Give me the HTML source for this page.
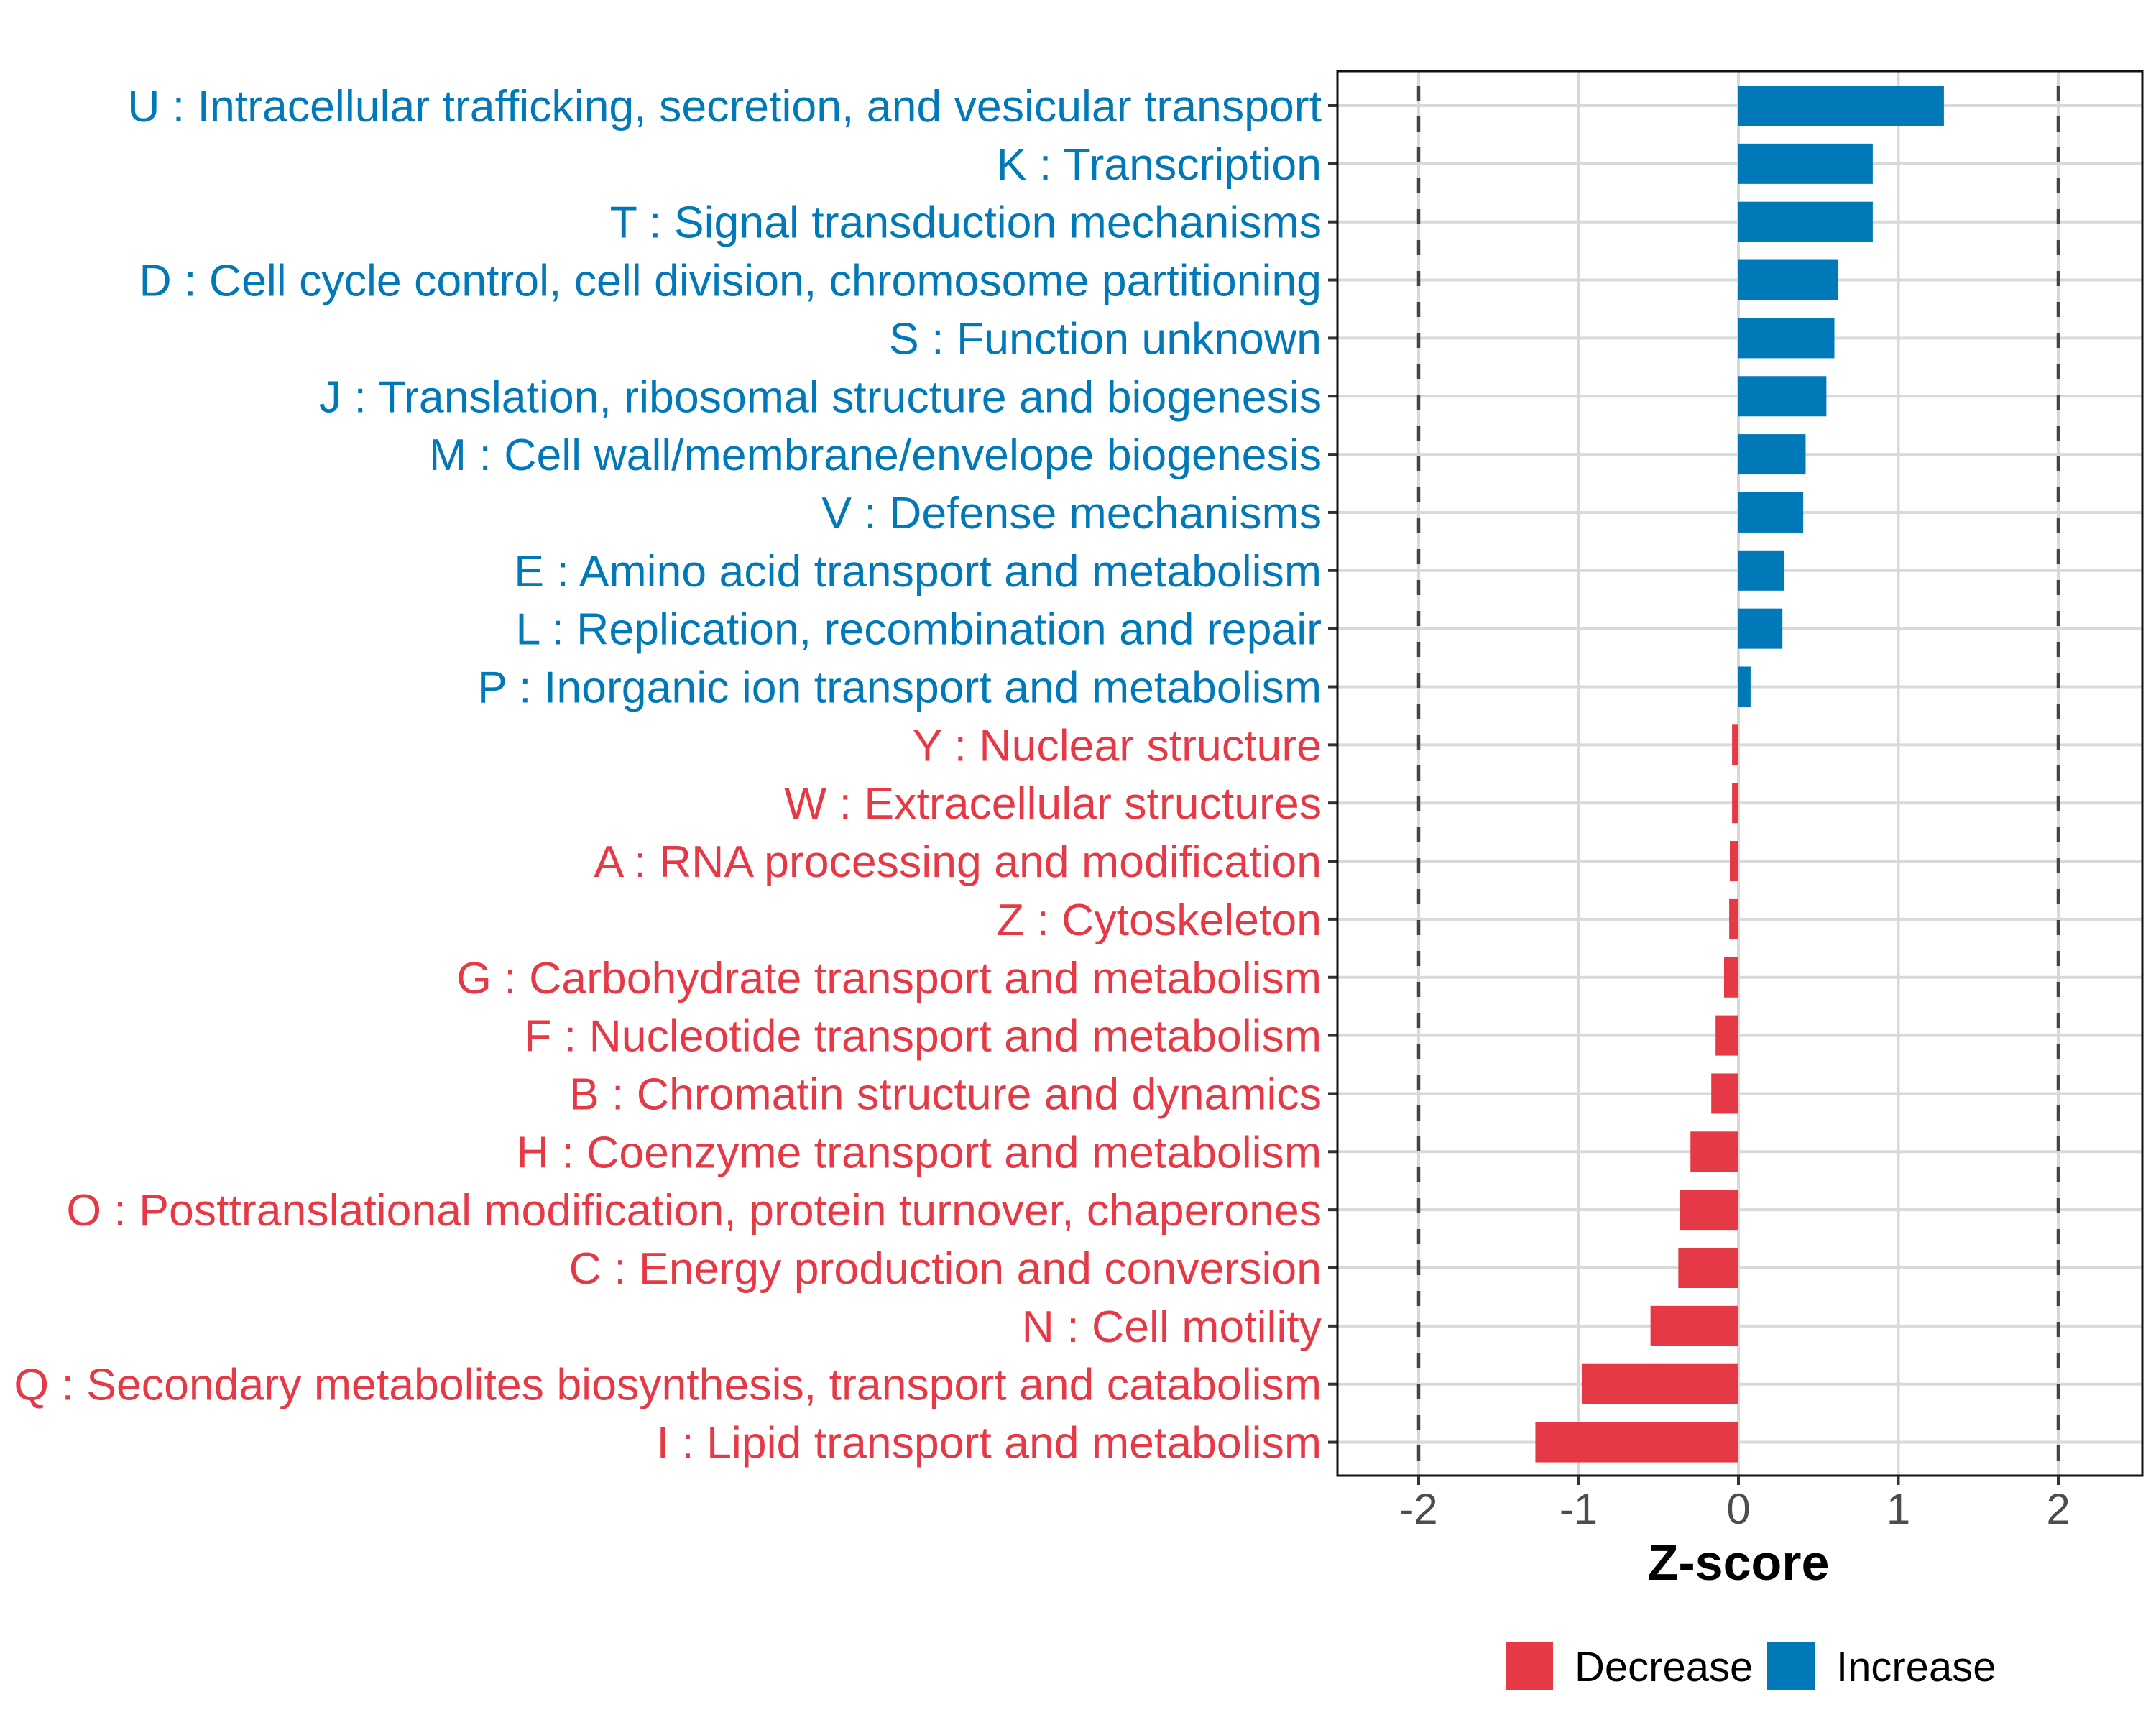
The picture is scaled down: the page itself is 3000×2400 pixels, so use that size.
<!DOCTYPE html>
<html><head><meta charset="utf-8"><style>
html,body{margin:0;padding:0;background:#fff;}
svg{display:block;font-family:"Liberation Sans",Arial,sans-serif;}
</style></head><body>
<svg id="chart" width="3000" height="2400" viewBox="0 0 3000 2400" xmlns="http://www.w3.org/2000/svg">
<rect width="3000" height="2400" fill="#fff"/>
<g id="grid"></g>
<g id="bars"></g>
<g id="labels"></g>
<g id="xaxis"></g>
</svg>
<script>
const categories = [
"U : Intracellular trafficking, secretion, and vesicular transport",
"K : Transcription",
"T : Signal transduction mechanisms",
"D : Cell cycle control, cell division, chromosome partitioning",
"S : Function unknown",
"J : Translation, ribosomal structure and biogenesis",
"M : Cell wall/membrane/envelope biogenesis",
"V : Defense mechanisms",
"E : Amino acid transport and metabolism",
"L : Replication, recombination and repair",
"P : Inorganic ion transport and metabolism",
"Y : Nuclear structure",
"W : Extracellular structures",
"A : RNA processing and modification",
"Z : Cytoskeleton",
"G : Carbohydrate transport and metabolism",
"F : Nucleotide transport and metabolism",
"B : Chromatin structure and dynamics",
"H : Coenzyme transport and metabolism",
"O : Posttranslational modification, protein turnover, chaperones",
"C : Energy production and conversion",
"N : Cell motility",
"Q : Secondary metabolites biosynthesis, transport and catabolism",
"I : Lipid transport and metabolism"
];
const zscores = [1.285, 0.84, 0.84, 0.625, 0.60, 0.55, 0.42, 0.405, 0.285, 0.275, 0.076, -0.04, -0.04, -0.054, -0.058, -0.09, -0.143, -0.17, -0.30, -0.367, -0.376, -0.55, -0.98, -1.27];
const xTicks = [-2, -1, 0, 1, 2];
const xTickLabels = ["-2", "-1", "0", "1", "2"];
const thresholds = [-2, 2];

const NS = "http://www.w3.org/2000/svg";
const BLUE = "#0178B7", RED = "#E63946";
const PL = 1861, PR = 2981, PT = 99, PB = 2053;
const X0 = 2419, UNIT = 222.5;
const Y0 = 147, STEP = 80.85, BARH = 56;
function xs(v){ return X0 + v*UNIT; }
function ys(i){ return Y0 + i*STEP; }
function mk(tag, attrs, parent){
  const e = document.createElementNS(NS, tag);
  for (const k in attrs) e.setAttribute(k, attrs[k]);
  parent.appendChild(e);
  return e;
}
const grid = document.getElementById('grid');
const bars = document.getElementById('bars');
const labels = document.getElementById('labels');
const xaxis = document.getElementById('xaxis');

xTicks.forEach(function(t){
  const l = mk('line', {x1: xs(t), x2: xs(t), y1: PT, y2: PB, stroke: '#d9d9d9', 'stroke-width': 4}, grid);
  
  
});
categories.forEach(function(c, i){
  const l = mk('line', {x1: PL, x2: PR, y1: ys(i), y2: ys(i), stroke: '#d9d9d9', 'stroke-width': 4}, grid);
  
  
});
zscores.forEach(function(v, i){
  const x1 = Math.min(xs(0), xs(v)), w = Math.abs(xs(v) - xs(0));
  const r = mk('rect', {x: x1, y: ys(i) - BARH/2, width: w, height: BARH, fill: v >= 0 ? BLUE : RED}, bars);
  
  
});
thresholds.forEach(function(t){
  const l = mk('line', {x1: xs(t), x2: xs(t), y1: PT, y2: PB, stroke: '#444', 'stroke-width': 4.5, 'stroke-dasharray': '21,22', 'stroke-dashoffset': '-20'}, bars);
  
  
});
const border = mk('rect', {x: PL, y: PT, width: PR-PL, height: PB-PT, fill: 'none', stroke: '#111', 'stroke-width': 3}, xaxis);


categories.forEach(function(c, i){
  const tk = mk('line', {x1: PL - 13, x2: PL, y1: ys(i), y2: ys(i), stroke: '#333', 'stroke-width': 4}, labels);
  
  
  const t = mk('text', {x: PL - 22, y: ys(i) + 22, 'text-anchor': 'end', 'font-size': 62.6, fill: zscores[i] >= 0 ? BLUE : RED}, labels);
  t.textContent = c;
  
  
});
xTicks.forEach(function(t, i){
  const tk = mk('line', {x1: xs(t), x2: xs(t), y1: PB, y2: PB + 13, stroke: '#333', 'stroke-width': 4}, xaxis);
  
  
  const tx = mk('text', {x: xs(t), y: 2120, 'text-anchor': 'middle', 'font-size': 60, fill: '#4d4d4d'}, xaxis);
  tx.textContent = xTickLabels[i];
  
  
});
const title = mk('text', {x: xs(0), y: 2198, 'text-anchor': 'middle', 'font-size': 70, 'font-weight': 'bold', fill: '#000'}, xaxis);
title.textContent = 'Z-score';


const legendEntries = [["Decrease", RED, 2095], ["Increase", BLUE, 2459]];
legendEntries.forEach(function(e){
  const g = mk('g', {}, xaxis);
  
  
  const k = mk('rect', {x: e[2], y: 2285, width: 66, height: 66, fill: e[1]}, g);
  
  
  const t = mk('text', {x: e[2] + 96, y: 2339, 'font-size': 58, fill: '#000'}, g);
  t.textContent = e[0];
  
  
});
</script>
</body></html>
